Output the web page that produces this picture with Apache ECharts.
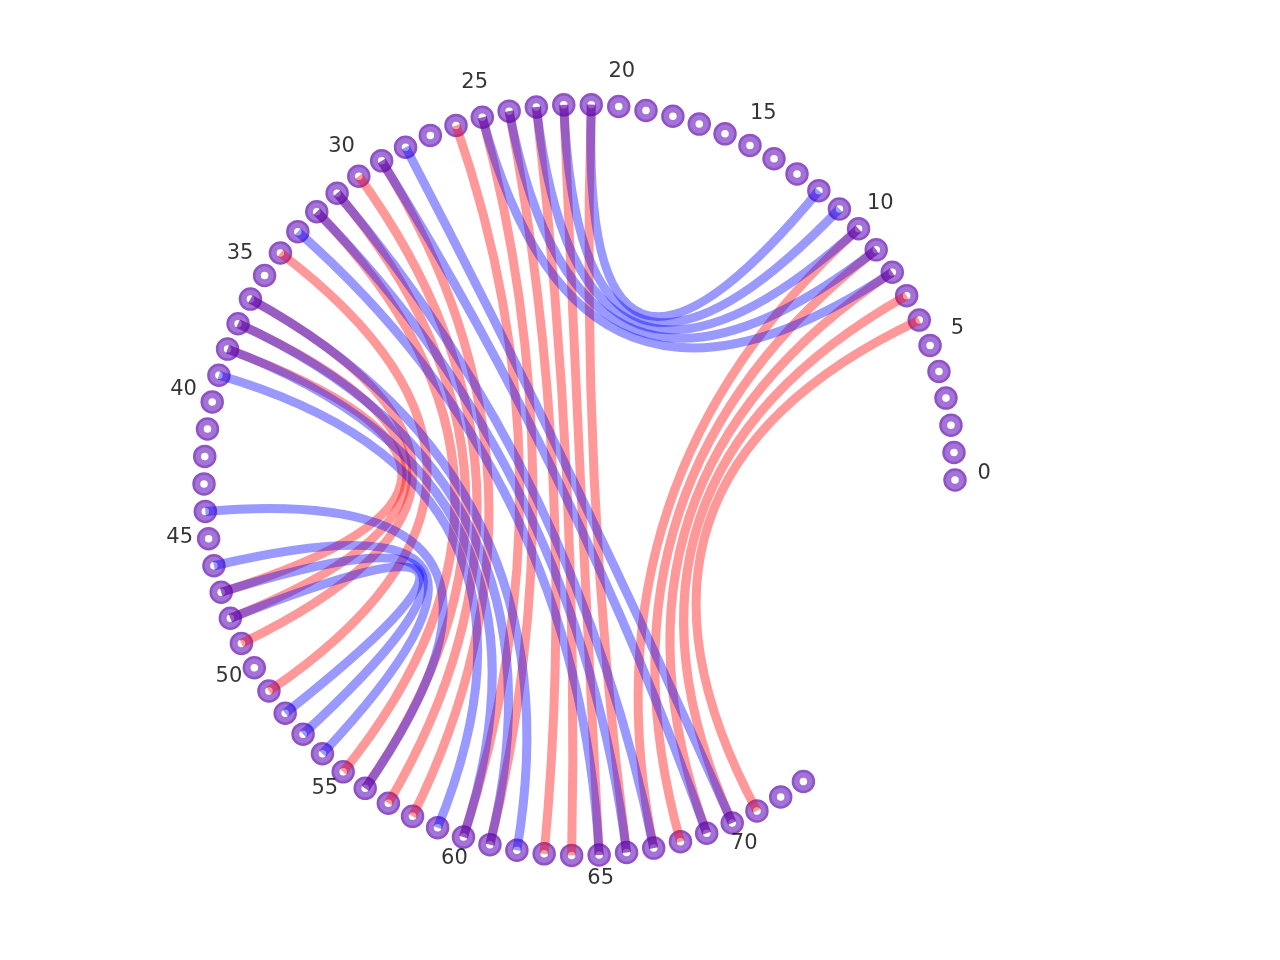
<!DOCTYPE html>
<html>
<head>
<meta charset="utf-8">
<script src="https://cdn.jsdelivr.net/npm/echarts@6/dist/echarts.min.js"></script>
<style>
html,body{margin:0;padding:0;background:#ffffff;}
#chart{width:1280px;height:960px;}
</style>
</head>
<body>
<div id="chart"></div>
<script>
// ---- data ----
const nodes = [0,1,2,3,4,5,6,7,8,9,10,11,12,13,14,15,16,17,18,19,20,21,22,23,24,25,26,27,28,29,30,31,32,33,34,35,36,37,38,39,40,41,42,43,44,45,46,47,48,49,50,51,52,53,54,55,56,57,58,59,60,61,62,63,64,65,66,67,68,69,70,71,72,73];
const redEdges = [[6,71],[7,70],[8,69],[9,68],[10,67],[21,66],[22,65],[23,64],[24,63],[25,61],[26,60],[29,58],[30,57],[31,56],[32,55],[34,51],[36,49],[37,48],[38,47]];
const blueEdges = [[8,25],[9,24],[10,23],[11,22],[12,21],[28,70],[29,69],[31,67],[32,66],[33,65],[36,62],[37,61],[38,60],[39,59],[44,56],[46,54],[47,53],[48,52]];
const tickNodes = [0,5,10,15,20,25,30,35,40,45,50,55,60,65,70];
const tickLabels = ['0','5','10','15','20','25','30','35','40','45','50','55','60','65','70'];

const STEP = 4.2;          // degrees between neighbouring nodes
const NODE_R = 1.0;        // radius of node circle (axis units)
const LABEL_R = 1.078;     // label radius (axis units)
const AXIS_MAX = 1.1;
const PX_PER_UNIT = 375.5;

const chart = echarts.init(document.getElementById('chart'), null, {renderer:'canvas'});

function edgeSeries(name, edges, color, z){
  return {
    name: name,
    type: 'custom',
    coordinateSystem: 'polar',
    z: z,
    silent: true,
    clip: false,
    data: edges.map(e => [e[0], e[1]]),
    renderItem: function(params, api){
      const a = api.value(0) * STEP, b = api.value(1) * STEP;
      const p0 = api.coord([NODE_R, a]);
      const p1 = api.coord([NODE_R, b]);
      const c = api.coord([0, 0]);
      return {
        type: 'bezierCurve',
        shape: {x1:p0[0], y1:p0[1], x2:p1[0], y2:p1[1], cpx1:c[0], cpy1:c[1]},
        style: {stroke: color, lineWidth: 9, fill: 'none', lineCap: 'butt'}
      };
    }
  };
}

chart.setOption({
  backgroundColor: '#ffffff',
  animation: false,
  polar: {center: [579.5, 480], radius: PX_PER_UNIT * AXIS_MAX},
  angleAxis: {type:'value', min:0, max:360, startAngle:0, clockwise:false, show:false},
  radiusAxis: {type:'value', min:0, max:AXIS_MAX, show:false},
  series: [
    {
      type: 'scatter', coordinateSystem: 'polar', z: 1, silent: true, clip: false,
      symbol: 'circle', symbolSize: 21,
      itemStyle: {color: 'rgb(163,115,216)', borderColor: 'rgb(143,83,198)', borderWidth: 2.5, opacity: 1},
      data: nodes.map(i => [NODE_R, i * STEP])
    },
    {
      type: 'scatter', coordinateSystem: 'polar', z: 2, silent: true, clip: false,
      symbol: 'circle', symbolSize: 7.5,
      itemStyle: {color: '#ffffff', opacity: 1},
      data: nodes.map(i => [NODE_R, i * STEP])
    },
    edgeSeries('red', redEdges, 'rgba(255,0,0,0.4)', 3),
    edgeSeries('blue', blueEdges, 'rgba(0,0,255,0.4)', 4),
    {
      type: 'scatter', coordinateSystem: 'polar', z: 5, silent: true, clip: false,
      symbol: 'circle', symbolSize: 2,
      itemStyle: {color: 'rgba(255,255,255,0)'},
      data: tickNodes.map((n, k) => ({value: [LABEL_R, n * STEP], name: tickLabels[k]})),
      label: {
        show: true, position: 'top', distance: -5.5,
        formatter: p => p.name,
        color: '#000000', fontFamily: 'DejaVu Sans', fontSize: 21
      }
    }
  ]
});
</script>
</body>
</html>
